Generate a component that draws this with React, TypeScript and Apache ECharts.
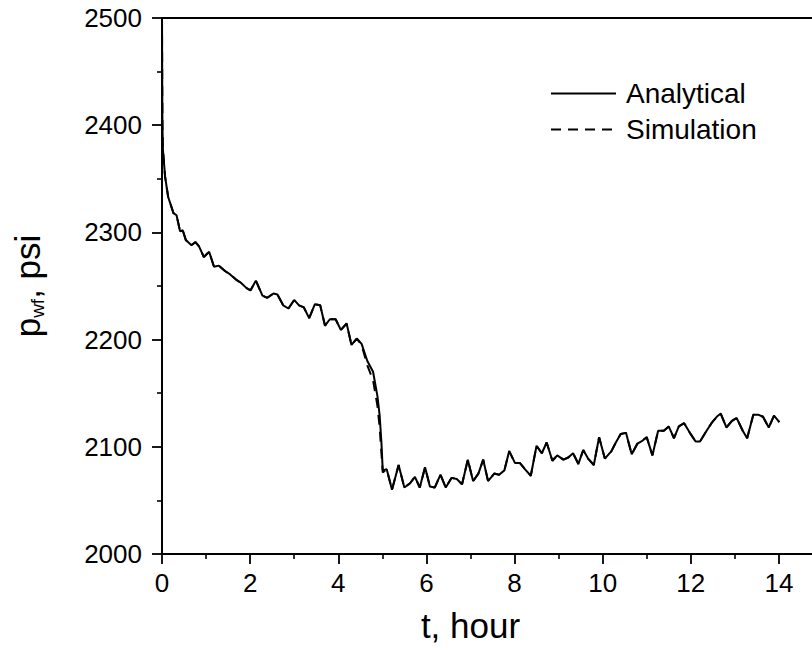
import React, { useEffect, useRef } from "react";
import * as echarts from "echarts";

// time (hour) of each plotted vertex
const tHours = [
  0, 0.005, 0.01, 0.02, 0.07, 0.14, 0.18, 0.26, 0.33, 0.41, 0.47, 0.54,
  0.67, 0.76, 0.84, 0.95, 1.07, 1.18, 1.29, 1.43, 1.54, 1.68, 1.79, 1.92,
  2.01, 2.13, 2.28, 2.39, 2.53, 2.62, 2.75, 2.87, 3.0, 3.11, 3.22, 3.34,
  3.47, 3.59, 3.7, 3.81, 3.94, 4.06, 4.19, 4.3, 4.42, 4.53, 4.66, 4.79,
  4.89, 4.94, 4.98, 5.01, 5.1, 5.22, 5.37, 5.5, 5.63, 5.74, 5.85, 5.97,
  6.08, 6.19, 6.32, 6.44, 6.57, 6.69, 6.81, 6.94, 7.06, 7.18, 7.29, 7.4,
  7.54, 7.65, 7.77, 7.88, 8.01, 8.12, 8.24, 8.37, 8.5, 8.62, 8.73, 8.86,
  8.97, 9.11, 9.22, 9.33, 9.45, 9.56, 9.67, 9.8, 9.92, 10.05, 10.2, 10.3,
  10.41, 10.53, 10.66, 10.79, 10.88, 11.0, 11.13, 11.26, 11.39, 11.5, 11.62, 11.73,
  11.85, 11.98, 12.11, 12.21, 12.36, 12.47, 12.59, 12.68, 12.81, 12.93, 13.04, 13.18,
  13.28, 13.42, 13.53, 13.64, 13.77, 13.89, 14.01,
];

// bottom-hole flowing pressure, psi
const pAnalytical = [
  2500, 2440, 2400, 2378, 2352, 2333, 2328, 2318, 2316, 2301, 2302, 2293,
  2288, 2291, 2287, 2277, 2282, 2268, 2269, 2264, 2261, 2256, 2253, 2248,
  2246, 2255, 2241, 2239, 2243, 2242, 2232, 2229, 2237, 2232, 2230, 2220,
  2233, 2232, 2213, 2219, 2219, 2209, 2215, 2195, 2201, 2196, 2180, 2170,
  2147, 2129, 2104, 2078, 2079, 2060, 2083, 2062, 2066, 2072, 2062, 2081,
  2063, 2062, 2074, 2062, 2071, 2070, 2065, 2088, 2068, 2075, 2088, 2068,
  2075, 2074, 2078, 2096, 2085, 2085, 2079, 2073, 2101, 2094, 2104, 2087,
  2092, 2088, 2090, 2094, 2084, 2097, 2089, 2083, 2109, 2089, 2096, 2104,
  2112, 2113, 2093, 2103, 2105, 2109, 2092, 2115, 2115, 2119, 2108, 2119,
  2122, 2113, 2105, 2105, 2115, 2122, 2128, 2131, 2118, 2124, 2127, 2115,
  2108, 2130, 2130, 2128, 2118, 2129, 2123,
];

const pSimulation = [
  2500, 2440, 2400, 2378, 2352, 2333, 2328, 2318, 2316, 2301, 2302, 2293,
  2288, 2291, 2287, 2277, 2282, 2268, 2269, 2264, 2261, 2256, 2253, 2248,
  2246, 2255, 2241, 2239, 2243, 2242, 2232, 2229, 2237, 2232, 2230, 2220,
  2233, 2232, 2213, 2219, 2219, 2209, 2215, 2195, 2201, 2195, 2176, 2162,
  2138, 2118, 2094, 2076, 2079, 2060, 2083, 2062, 2066, 2072, 2062, 2081,
  2063, 2062, 2074, 2062, 2071, 2070, 2065, 2088, 2068, 2075, 2088, 2068,
  2075, 2074, 2078, 2096, 2085, 2085, 2079, 2073, 2101, 2094, 2104, 2087,
  2092, 2088, 2090, 2094, 2084, 2097, 2089, 2083, 2109, 2089, 2096, 2104,
  2112, 2113, 2093, 2103, 2105, 2109, 2092, 2115, 2115, 2119, 2108, 2119,
  2122, 2113, 2105, 2105, 2115, 2122, 2128, 2131, 2118, 2124, 2127, 2115,
  2108, 2130, 2130, 2128, 2118, 2129, 2123,
];

const seriesNames = ["Analytical", "Simulation"];
const lastLabelledHour = 14;

export default function App() {
  const ref = useRef<HTMLDivElement>(null);
  useEffect(() => {
    if (!ref.current) return;
    const chart = echarts.init(ref.current, null, { renderer: "svg" });
    const font = "'Liberation Sans', Arial, Helvetica, sans-serif";
    const black = "#000";
    const analyticalData = tHours.map((t, i) => [t, pAnalytical[i]]);
    const simulationData = tHours.map((t, i) => [t, pSimulation[i]]);
    chart.setOption({
      animation: false,
      backgroundColor: "#fff",
      textStyle: { fontFamily: font, color: black },
      grid: {
        left: 162,
        top: 18,
        width: 705,
        height: 536,
        show: true,
        borderColor: black,
        borderWidth: 1.8,
        backgroundColor: "transparent",
        containLabel: false,
        outerBoundsMode: "none",
      },
      legend: {
        orient: "vertical",
        left: 550,
        top: 77.5,
        padding: 0,
        itemWidth: 65,
        itemHeight: 32,
        itemGap: 4,
        data: seriesNames,
        itemStyle: { opacity: 0, borderWidth: 0 },
        lineStyle: { width: 2 },
        textStyle: {
          fontFamily: font,
          fontSize: 28,
          lineHeight: 32,
          color: black,
          padding: [0, 0, 0, 5],
        },
      },
      xAxis: {
        type: "value",
        min: 0,
        max: 16,
        interval: 2,
        name: "t, hour",
        nameLocation: "middle",
        nameGap: 51,
        nameTextStyle: {
          fontFamily: font,
          fontSize: 35,
          lineHeight: 40,
          color: black,
          padding: [0, 88, 0, 0],
        },
        axisLine: { show: true, lineStyle: { color: black, width: 1.8 } },
        axisTick: { show: true, inside: false, length: 10, lineStyle: { color: black, width: 1.8 } },
        minorTick: { show: true, splitNumber: 2, length: 5, lineStyle: { color: black, width: 1.6 } },
        axisLabel: {
          fontFamily: font,
          fontSize: 26,
          lineHeight: 27,
          margin: 15,
          color: black,
          formatter: (v: number) => (v > lastLabelledHour ? "" : String(v)),
        },
        splitLine: { show: false },
        minorSplitLine: { show: false },
      },
      yAxis: {
        type: "value",
        min: 2000,
        max: 2500,
        interval: 100,
        name: "{a|p}{b|wf}{a|, psi}",
        nameLocation: "middle",
        nameRotate: 90,
        nameGap: 115,
        nameTextStyle: {
          rich: {
            a: { fontFamily: font, fontSize: 35, lineHeight: 40, color: black },
            b: { fontFamily: font, fontSize: 19, lineHeight: 20, verticalAlign: "bottom", color: black },
          },
        },
        axisLine: { show: true, lineStyle: { color: black, width: 1.8 } },
        axisTick: { show: true, inside: false, length: 10, lineStyle: { color: black, width: 1.8 } },
        minorTick: { show: true, splitNumber: 2, length: 5, lineStyle: { color: black, width: 1.6 } },
        axisLabel: {
          fontFamily: font,
          fontSize: 26,
          margin: 20,
          color: black,
          formatter: (v: number) => String(v),
        },
        splitLine: { show: false },
        minorSplitLine: { show: false },
      },
      series: [
        {
          name: seriesNames[0],
          type: "line",
          data: analyticalData,
          symbol: "none",
          showSymbol: false,
          lineStyle: { color: black, width: 2, type: "solid" },
          itemStyle: { color: black },
        },
        {
          name: seriesNames[1],
          type: "line",
          data: simulationData,
          symbol: "none",
          showSymbol: false,
          lineStyle: { color: black, width: 2, type: [10, 7] },
          itemStyle: { color: black },
        },
      ],
    });
    return () => chart.dispose();
  }, []);
  return (
    <div
      ref={ref}
      style={{ position: "absolute", left: 0, top: 0, width: 812, height: 653 }}
    />
  );
}
